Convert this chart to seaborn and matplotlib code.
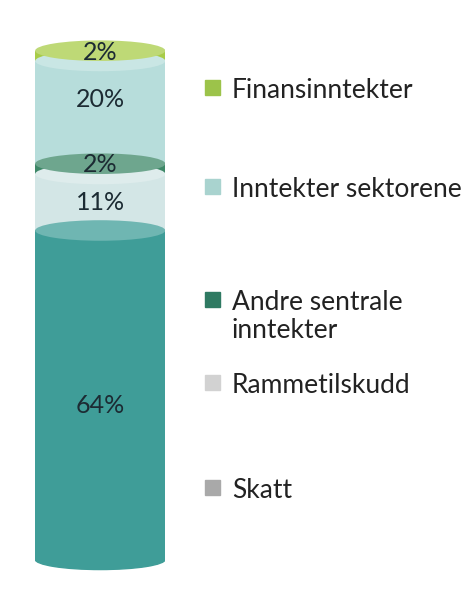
import matplotlib.pyplot as plt
import seaborn as sns
import pandas as pd
import numpy as np
from matplotlib.patches import Ellipse, Rectangle
from matplotlib.colors import to_rgb

# stacked from bottom to top
segments = ['Skatt', 'Rammetilskudd', 'Andre sentrale inntekter',
            'Inntekter sektorene', 'Finansinntekter']
shares = [64, 11, 2, 20, 2]
bar_colors = ['#3f9d98', '#d3e6e6', '#3e8868', '#b7dddb', '#a8cc48']
legend_colors = ['#a9a9a9', '#d2d2d2', '#2f7a62', '#a9d3cf', '#9cc34a']
legend_labels = ['Finansinntekter', 'Inntekter sektorene',
                 'Andre sentrale\ninntekter', 'Rammetilskudd', 'Skatt']


def lighten(c, f=0.3):
    r = np.array(to_rgb(c))
    return tuple(r + (1 - r) * f)


sns.set_style('white')
plt.rcParams['font.family'] = ['Lato', 'DejaVu Sans']

fig = plt.figure(figsize=(4.75, 5.98), dpi=100)
ax = fig.add_axes([0.074, 0.045, 0.274, 0.89])

df = pd.DataFrame({'x': ['Inntekter'] * len(shares), 'seg': segments, 'val': shares})
bottoms = np.concatenate([[0], np.cumsum(shares)[:-1]])
for i, row in df.iterrows():
    sns.barplot(x=[row['x']], y=[row['val']], bottom=bottoms[i], color=bar_colors[i],
                width=1.0, saturation=1, ax=ax, edgecolor='none')

ax.set_xlim(-0.5, 0.5)
eh = 4.0  # ellipse height in data units
ax.set_ylim(-eh / 2 - 0.3, sum(shares) + eh / 2 + 0.3)

# cylinder caps
ax.add_patch(Ellipse((0, 0), 1.0, eh, color=bar_colors[0], zorder=1))
tops = np.cumsum(shares)
for i, t in enumerate(tops):
    ax.add_patch(Ellipse((0, t), 1.0, eh, color=lighten(bar_colors[i], 0.25),
                         zorder=3 + i, lw=0))

# percentage labels
label_y = [bottoms[0] + 30, bottoms[1] + 5.5, tops[2] - 0.2,
           bottoms[3] + 12.5, tops[4] - 0.3]
for i, v in enumerate(shares):
    ax.text(0, label_y[i], f'{v}%', ha='center', va='center', fontsize=18,
            color='#1c2b33', zorder=20)

ax.axis('off')

# legend
leg_y = [0.853, 0.687, 0.498, 0.36, 0.184]
for i, (lab, col) in enumerate(zip(legend_labels, legend_colors[::-1])):
    fig.patches.append(Rectangle((0.432, leg_y[i] - 0.012), 0.032, 0.025,
                                 transform=fig.transFigure, color=col, figure=fig))
    fig.text(0.488, leg_y[i] + 0.017, lab, ha='left', va='top', fontsize=19,
             color='#222222', linespacing=1.15)

plt.savefig('out.png', dpi=100)
